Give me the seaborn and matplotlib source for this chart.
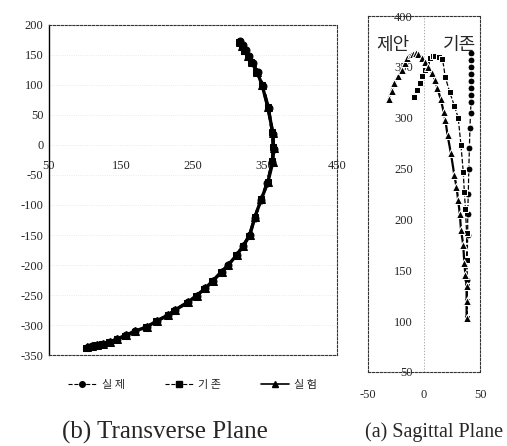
"""
plot.py
=======
Trajectory comparison in the transverse and sagittal planes.
"""

import matplotlib
matplotlib.use("Agg")
import seaborn as sns
from matplotlib import pyplot as plt
from matplotlib.lines import Line2D

# ---- transverse plane (b) -------------------------------------------------
trans_real_x = [316, 319, 323, 328, 333, 340, 347, 355, 361, 362, 360, 353,
                344, 336, 329, 320, 311, 299, 290, 278, 267, 255, 243, 225,
                216, 200, 186, 170, 157, 145, 135, 125, 117, 110, 104]
trans_real_y = [173, 166, 158, 148, 137, 121, 99, 62, 19, -6, -29, -63,
                -91, -121, -150, -168, -183, -200, -211, -226, -239, -251,
                -262, -275, -283, -293, -303, -310, -317, -323, -328, -331,
                -333, -335, -337]

trans_base_x = [314, 318, 321, 326, 331, 338, 346, 354, 360, 361, 360, 354,
                345, 336, 328, 319, 310, 298, 289, 277, 266, 254, 242, 224,
                215, 199, 185, 169, 156, 144, 134, 124, 116, 109, 102]
trans_base_y = [171, 164, 157, 147, 138, 122, 100, 63, 21, -4, -27, -62,
                -90, -120, -151, -169, -184, -201, -212, -227, -240, -252,
                -263, -276, -284, -294, -304, -311, -318, -324, -329, -332,
                -334, -336, -338]

trans_exp_x = [315, 318, 322, 327, 332, 339, 346, 354, 361, 362, 361, 354,
               345, 336, 329, 320, 311, 299, 290, 278, 267, 255, 243, 225,
               216, 200, 186, 170, 157, 145, 135, 125, 117, 110, 103]
trans_exp_y = [172, 165, 158, 148, 138, 122, 100, 63, 20, -5, -28, -62,
               -90, -120, -150, -168, -183, -200, -211, -226, -239, -251,
               -262, -275, -283, -293, -303, -310, -317, -323, -328, -331,
               -333, -335, -337]

trans_xticks = [50, 150, 250, 350, 450]
trans_yticks = [200, 150, 100, 50, 0, -50, -100, -150, -200, -250, -300, -350]

# ---- sagittal plane (a) ---------------------------------------------------
sag_prop_x = [-31.5, -29, -27, -23, -20, -17, -15, -12, -10, -7, -5, -2, 1,
              4, 7, 10, 12, 15, 17.5, 19, 21, 24, 27, 29, 30.5, 32, 33, 35,
              36, 37, 38, 38, 38]
sag_prop_y = [318, 326, 334, 341, 347, 354, 359, 362, 363, 364, 363, 359,
              355, 350, 344, 337, 329, 318, 306, 298, 283, 265, 244, 232,
              219, 205, 190, 175, 157, 145, 135, 120, 103]

sag_base_x = [-9, -6.5, -4, -1.5, 1, 3, 5.5, 8, 10, 13, 16.5, 19, 23, 27,
              30.5, 33, 35, 36, 37, 38, 38, 38.5, 38.5, 38.5]
sag_base_y = [320, 327, 334, 341, 347, 353, 359, 361, 361, 360, 358, 340,
              325, 312, 300, 273, 247, 227, 210, 187, 160, 135, 118, 103]

sag_real_x = [42, 42, 42, 42, 42, 42, 42, 42, 41.5, 41, 40.5, 40, 39.5, 39,
              39, 38.5, 38.5, 38.5, 38.5]
sag_real_y = [364, 357, 350, 343, 336, 329, 322, 315, 305, 290, 270, 250,
              225, 205, 185, 160, 140, 120, 103]

sag_xticks = [-50, 0, 50]
sag_yticks = [400, 350, 300, 250, 200, 150, 100, 50]

SERIES_NAMES = ["실 제", "기 존", "실 험"]

sns.set_style("white")
plt.rcParams["font.family"] = ["Liberation Serif", "Noto Sans CJK KR"]
KR = ["Noto Sans CJK KR", "DejaVu Sans"]
FRAME = dict(color="#333333", linestyle=(0, (2, 1.5)), linewidth=0.8)


def dashed_frame(ax, sides):
    for side in sides:
        sp = ax.spines[side]
        sp.set_visible(True)
        sp.set_color(FRAME["color"])
        sp.set_linestyle(FRAME["linestyle"])
        sp.set_linewidth(FRAME["linewidth"])


fig = plt.figure(figsize=(5.07, 4.46), dpi=100)

# ---------------------------------------------------------------- left panel
ax = fig.add_axes([0.0966, 0.204, 0.568, 0.740])
for xs, ys, mk, ls, lw, ms in [
    (trans_real_x, trans_real_y, "o", "--", 2.0, 5),
    (trans_base_x, trans_base_y, "s", "--", 2.0, 5),
    (trans_exp_x, trans_exp_y, "^", "-", 2.4, 6),
]:
    sns.lineplot(x=xs, y=ys, sort=False, estimator=None, ax=ax,
                 color="black", marker=mk, markersize=ms, linestyle=ls,
                 linewidth=lw, markeredgecolor="black")

ax.set_xlim(50, 450)
ax.set_ylim(-350, 200)
ax.set_yticks(trans_yticks)
ax.set_yticklabels([str(v) for v in trans_yticks], fontsize=9)
ax.tick_params(axis="y", length=0, pad=4)
ax.set_xticks([])
for y in trans_yticks:
    ax.axhline(y, color="#e4e4e4", linestyle=":", linewidth=0.6, zorder=0)
ax.spines["left"].set_color("black")
ax.spines["left"].set_linewidth(1.0)
dashed_frame(ax, ["top", "right", "bottom"])

# x labels sit on the y = 0 line
x_axis = ax.secondary_xaxis(350 / 550)
x_axis.xaxis.set_ticks_position("bottom")
x_axis.set_xticks(trans_xticks)
x_axis.set_xticklabels([str(v) for v in trans_xticks], fontsize=9)
x_axis.tick_params(length=0, pad=11)
for sp in x_axis.spines.values():
    sp.set_visible(False)

handles = [
    Line2D([], [], color="black", linestyle="--", marker="o", markersize=4,
           linewidth=0.8),
    Line2D([], [], color="black", linestyle="--", marker="s", markersize=4,
           linewidth=0.8),
    Line2D([], [], color="black", linestyle="-", marker="^", markersize=5,
           linewidth=1.2),
]
ax.legend(handles, SERIES_NAMES, loc="upper center", ncol=3, frameon=False,
          bbox_to_anchor=(0.5, -0.045), prop={"family": KR, "size": 8},
          handlelength=2.5, columnspacing=3.6, handletextpad=0.5)

fig.text(0.325, 0.03, "(b) Transverse Plane", ha="center", va="center",
         fontsize=18)

# --------------------------------------------------------------- right panel
bx = fig.add_axes([0.7258, 0.166, 0.221, 0.798])
sns.lineplot(x=sag_real_x, y=sag_real_y, sort=False, estimator=None, ax=bx,
             color="black", marker="o", markersize=5, linestyle="--",
             linewidth=0.9)
sns.lineplot(x=sag_base_x, y=sag_base_y, sort=False, estimator=None, ax=bx,
             color="black", marker="s", markersize=4.5, linestyle="--",
             linewidth=0.9)
sns.lineplot(x=sag_prop_x, y=sag_prop_y, sort=False, estimator=None, ax=bx,
             color="black", marker="^", markersize=6, linestyle="-",
             linewidth=1.6)

bx.set_xlim(-50, 50)
bx.set_ylim(50, 400)
bx.set_xticks(sag_xticks)
bx.set_xticklabels([str(v) for v in sag_xticks], fontsize=9)
bx.tick_params(axis="x", length=0, pad=12)
bx.set_yticks([])
bx.axvline(0, color="#999999", linestyle=(0, (1.5, 2)), linewidth=0.6,
           zorder=0)
dashed_frame(bx, ["top", "right", "bottom", "left"])

# y labels sit on the x = 0 line
y_axis = bx.secondary_yaxis(0.5)
y_axis.yaxis.set_ticks_position("left")
y_axis.set_yticks(sag_yticks)
y_axis.set_yticklabels([str(v) for v in sag_yticks], fontsize=9)
y_axis.tick_params(length=0, pad=8)
for sp in y_axis.spines.values():
    sp.set_visible(False)

bx.text(0.22, 0.92, "제안", transform=bx.transAxes, ha="center",
        va="center", fontsize=13, family=KR)
bx.text(0.82, 0.92, "기존", transform=bx.transAxes, ha="center",
        va="center", fontsize=13, family=KR)

fig.text(0.857, 0.03, "(a) Sagittal Plane", ha="center", va="center",
         fontsize=14.5)

fig.savefig("out.png", dpi=100)
plt.close(fig)
